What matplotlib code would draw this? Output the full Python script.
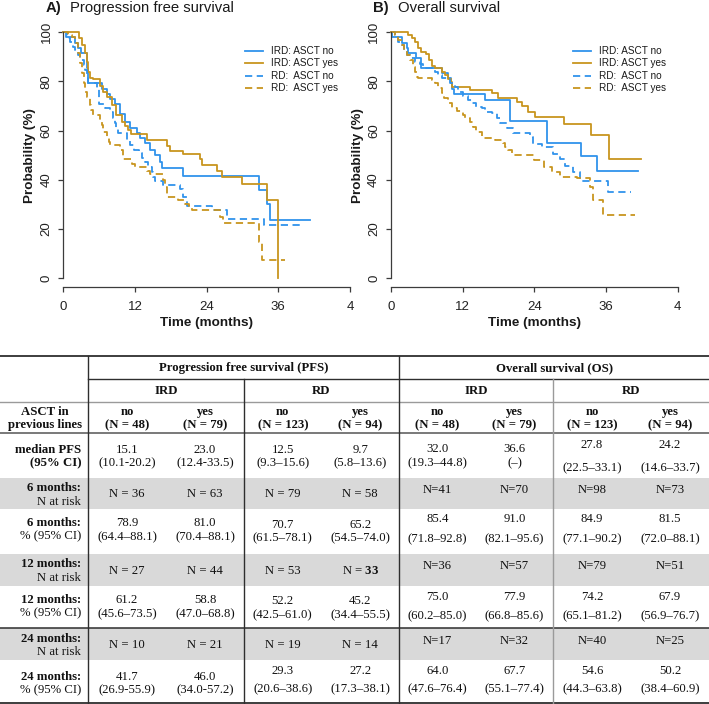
import matplotlib
matplotlib.use("Agg")
import matplotlib.pyplot as plt

plt.rcParams["font.family"] = ["Liberation Sans", "DejaVu Sans"]
plt.rcParams["mathtext.fontset"] = "custom"
plt.rcParams["mathtext.bf"] = "Liberation Serif:bold"
plt.rcParams["mathtext.rm"] = "Liberation Serif"

# ─────────────────────────────────────────────
# Kaplan–Meier curves (months, %)
# ─────────────────────────────────────────────
pfs_ird_no_t = [0, 0.5, 1.9, 2.5, 3.0, 3.9, 4.2, 6.4, 7.3, 7.8, 8.7, 9.5, 10.3, 11.2,
                12.3, 12.8, 13.7, 14.5, 15.3, 16.2, 16.6, 20.1, 32.7, 34.1, 34.6, 41.3]
pfs_ird_no_s = [100, 97.9, 95.8, 93.8, 91.7, 85.4, 79.2, 77.1, 75.0, 72.9, 70.8, 66.7, 63.7, 61.2,
                58.9, 56.9, 54.9, 52.2, 50.1, 47.4, 44.7, 41.7, 35.8, 30.0, 23.8, 23.8]

pfs_ird_yes_t = [0, 2.7, 3.2, 3.6, 3.9, 4.2, 4.5, 5.0, 6.1, 6.7, 7.3, 8.1, 8.9, 9.8, 10.3,
                 10.9, 11.3, 14.0, 17.4, 17.9, 20.1, 22.9, 23.3, 25.7, 26.5, 30.0, 34.1, 36.0]
pfs_ird_yes_s = [100, 97.5, 94.9, 91.5, 88.0, 84.0, 81.6, 81.0, 78.3, 75.9, 73.8, 70.5, 66.4, 63.7,
                 62.0, 60.3, 58.8, 56.2, 53.8, 51.8, 50.4, 48.4, 46.0, 43.7, 41.0, 38.3, 31.8, 0]

pfs_rd_no_t = [0, 0.6, 1.1, 1.7, 2.0, 2.5, 2.8, 3.4, 3.6, 3.9, 4.2, 5.6, 5.9, 6.0, 7.0, 7.8,
               8.4, 8.6, 8.9, 9.2, 10.6, 11.2, 11.8, 12.6, 13.1, 13.7, 14.2, 14.8, 15.1, 15.3,
               16.7, 19.5, 20.1, 20.8, 24.9, 27.4, 33.6, 39.6]
pfs_rd_no_s = [100, 97.6, 96.2, 94.2, 92.8, 90.8, 88.8, 86.7, 84.7, 82.7, 79.3, 77.2, 73.5, 70.7,
               69.1, 67.4, 65.0, 63.0, 61.0, 58.9, 56.2, 54.2, 52.2, 50.8, 48.8, 47.4, 45.4, 43.4,
               41.3, 39.5, 37.8, 36.5, 33.2, 29.4, 27.8, 24.1, 21.7, 21.7]

pfs_rd_yes_t = [0, 0.8, 1.4, 2.0, 2.5, 2.8, 3.1, 3.4, 3.6, 3.9, 4.5, 4.7, 5.0, 6.1, 6.4, 6.7,
                7.3, 7.7, 7.8, 9.5, 10.0, 11.5, 12.0, 14.0, 14.5, 16.7, 17.0, 17.4, 19.2, 20.3,
                21.0, 21.6, 26.2, 26.8, 32.8, 33.2, 37.1]
pfs_rd_yes_s = [100, 98.9, 97.9, 95.5, 91.5, 87.4, 83.3, 79.3, 75.9, 73.8, 70.5, 68.4, 66.4,
                64.4, 62.3, 59.6, 57.6, 55.6, 54.2, 52.2, 48.4, 46.5, 45.2, 43.5, 42.5, 40.0,
                37.0, 33.0, 32.0, 30.2, 29.4, 27.8, 24.8, 22.4, 14.9, 7.4, 7.4]

os_ird_no_t = [0, 0.2, 1.9, 2.6, 2.9, 4.2, 5.0, 8.6, 9.5, 10.0, 10.2, 10.6, 15.8, 19.9,
               26.2, 31.9, 34.5, 41.4]
os_ird_no_s = [100, 97.9, 95.8, 93.8, 91.7, 89.6, 85.4, 83.3, 81.3, 79.2, 77.1, 75.0, 72.6, 64.0,
               55.2, 49.7, 43.5, 43.5]

os_ird_yes_t = [0, 2.9, 3.5, 4.0, 4.6, 5.1, 5.8, 6.4, 6.9, 7.3, 8.6, 9.0, 9.5, 10.0, 10.2,
                13.2, 16.9, 18.0, 21.1, 22.0, 22.9, 24.1, 29.0, 33.5, 36.5, 41.9]
os_ird_yes_s = [100, 98.7, 97.5, 96.0, 93.5, 92.0, 91.0, 88.6, 86.5, 85.5, 84.0, 82.5, 81.0,
                79.7, 77.9, 76.6, 75.2, 73.4, 71.8, 70.0, 67.7, 65.4, 62.6, 58.3, 48.6, 48.6]

os_rd_no_t = [0, 0.7, 1.2, 1.5, 2.1, 2.6, 3.2, 4.0, 4.8, 5.4, 5.7, 7.4, 7.9, 8.5, 9.9, 10.7,
              11.3, 12.0, 12.9, 13.5, 14.3, 15.2, 15.7, 16.9, 17.7, 18.2, 19.4, 20.5, 23.3,
              23.7, 25.3, 27.2, 28.3, 29.1, 30.5, 31.6, 36.3, 40.2]
os_rd_no_s = [100, 98.2, 96.2, 94.9, 92.8, 90.8, 89.4, 88.0, 87.0, 86.0, 85.4, 84.0, 82.7, 81.3,
              79.3, 77.9, 75.9, 74.2, 72.5, 71.1, 69.8, 69.1, 67.8, 67.1, 65.0, 63.0, 61.0, 59.0,
              57.3, 54.6, 53.3, 50.6, 48.5, 45.8, 43.1, 39.7, 35.2, 35.2]

os_rd_yes_t = [0, 0.7, 1.2, 1.8, 2.1, 2.6, 3.2, 3.7, 4.0, 4.3, 4.6, 6.8, 7.4, 7.9, 8.5, 8.9,
               9.6, 10.2, 11.0, 12.1, 12.4, 13.2, 13.8, 14.3, 15.2, 17.4, 18.8, 19.1, 19.6,
               20.2, 23.9, 25.6, 27.0, 28.3, 31.1, 33.3, 33.8, 35.5, 40.9]
os_rd_yes_s = [100, 98.9, 96.9, 94.9, 92.8, 90.8, 88.8, 86.0, 84.0, 82.0, 81.5, 80.6, 79.3,
               77.2, 75.2, 73.2, 71.1, 69.1, 67.9, 66.4, 65.0, 63.7, 61.7, 59.6, 56.9, 56.2,
               54.9, 53.5, 52.2, 50.1, 48.1, 45.4, 43.3, 41.3, 40.6, 37.2, 31.8, 25.7, 25.7]

legend_labels = ["IRD: ASCT no", "IRD: ASCT yes", "RD:  ASCT no", "RD:  ASCT yes"]
x_ticks = [0, 12, 24, 36, 48]
x_tick_labels = ["0", "12", "24", "36", "4"]
y_ticks = [0, 20, 40, 60, 80, 100]

# ─────────────────────────────────────────────
# Table contents
# ─────────────────────────────────────────────
endpoints = ["Progression free survival (PFS)", "Overall survival (OS)"]
regimens = ["IRD", "RD", "IRD", "RD"]
asct = ["no", "yes"] * 4
group_n = ["(N = 48)", "(N = 79)", "(N = 123)", "(N = 94)"] * 2

median = ["15.1", "23.0", "12.5", "9.7", "32.0", "36.6", "27.8", "24.2"]
median_ci = ["(10.1-20.2)", "(12.4-33.5)", "(9.3–15.6)", "(5.8–13.6)",
             "(19.3–44.8)", "(–)", "(22.5–33.1)", "(14.6–33.7)"]
risk6 = ["N = 36", "N = 63", "N = 79", "N = 58", "N=41", "N=70", "N=98", "N=73"]
pct6 = ["78.9", "81.0", "70.7", "65.2", "85.4", "91.0", "84.9", "81.5"]
ci6 = ["(64.4–88.1)", "(70.4–88.1)", "(61.5–78.1)", "(54.5–74.0)",
       "(71.8–92.8)", "(82.1–95.6)", "(77.1–90.2)", "(72.0–88.1)"]
risk12 = ["N = 27", "N = 44", "N = 53", "N = $\\mathbf{33}$", "N=36", "N=57", "N=79", "N=51"]
pct12 = ["61.2", "58.8", "52.2", "45.2", "75.0", "77.9", "74.2", "67.9"]
ci12 = ["(45.6–73.5)", "(47.0–68.8)", "(42.5–61.0)", "(34.4–55.5)",
        "(60.2–85.0)", "(66.8–85.6)", "(65.1–81.2)", "(56.9–76.7)"]
risk24 = ["N = 10", "N = 21", "N = 19", "N = 14", "N=17", "N=32", "N=40", "N=25"]
pct24 = ["41.7", "46.0", "29.3", "27.2", "64.0", "67.7", "54.6", "50.2"]
ci24 = ["(26.9-55.9)", "(34.0-57.2)", "(20.6–38.6)", "(17.3–38.1)",
        "(47.6–76.4)", "(55.1–77.4)", "(44.3–63.8)", "(38.4–60.9)"]

row_labels = [("median PFS", "(95% CI)"), ("6 months:", "N at risk"), ("6 months:", "% (95% CI)"),
              ("12 months:", "N at risk"), ("12 months:", "% (95% CI)"),
              ("24 months:", "N at risk"), ("24 months:", "% (95% CI)")]

BLUE = "#3093ec"
GOLD = "#c8951f"
AXC = "#3c3c3c"
W, H = 709, 704

fig = plt.figure(figsize=(W / 100, H / 100), dpi=100)


def px_axes(x0, y0, x1, y1):
    return fig.add_axes([x0 / W, 1 - y1 / H, (x1 - x0) / W, (y1 - y0) / H])


DASH = (0, (4, 2.5))


def km_panel(x0, curves):
    ax = px_axes(x0, 32.3, x0 + 286.6, 278.3)
    ax.set_xlim(0, 48)
    ax.set_ylim(0, 100)
    for t, s, c, ls in curves:
        ax.step(t, s, where="post", color=c, lw=1.3, linestyle=ls, clip_on=False)
    for side in ["top", "right"]:
        ax.spines[side].set_visible(False)
    ax.spines["bottom"].set_position(("outward", 6.6))
    ax.spines["bottom"].set_bounds(0, 48)
    ax.spines["left"].set_bounds(0, 100)
    for side in ["bottom", "left"]:
        ax.spines[side].set_color(AXC)
        ax.spines[side].set_linewidth(0.9)
    ax.set_xticks(x_ticks)
    ax.set_xticklabels(x_tick_labels)
    ax.set_yticks(y_ticks)
    ax.set_yticklabels([str(v) for v in y_ticks], rotation=90, va="center")
    ax.tick_params(length=3.8, width=0.9, color=AXC, labelcolor="#222222", labelsize=9.5)
    ax.tick_params(axis="x", pad=6)
    ax.tick_params(axis="y", pad=4)
    ax.patch.set_alpha(0)
    return ax


km_panel(63.3, [(pfs_ird_no_t, pfs_ird_no_s, BLUE, "-"),
                (pfs_ird_yes_t, pfs_ird_yes_s, GOLD, "-"),
                (pfs_rd_no_t, pfs_rd_no_s, BLUE, DASH),
                (pfs_rd_yes_t, pfs_rd_yes_s, GOLD, DASH)])
km_panel(391.0, [(os_ird_no_t, os_ird_no_s, BLUE, "-"),
                 (os_ird_yes_t, os_ird_yes_s, GOLD, "-"),
                 (os_rd_no_t, os_rd_no_s, BLUE, DASH),
                 (os_rd_yes_t, os_rd_yes_s, GOLD, DASH)])

# overlay in pixel coordinates for titles, legends and the table
ov = fig.add_axes([0, 0, 1, 1])
ov.set_xlim(0, W)
ov.set_ylim(H, 0)
ov.axis("off")
ov.patch.set_alpha(0)

TXT = "#1a1a1a"
for x0, letter, title in [(63.3, "A)", "Progression free survival"), (391.0, "B)", "Overall survival")]:
    ov.text(x0 - 18, 8, letter, fontsize=10.7, fontweight="bold", color=TXT, va="center")
    ov.text(x0 + 7, 8, title, fontsize=10.7, color=TXT, va="center")
    ov.text(x0 - 33, 155.3, "Probability (%)", fontsize=9.7, fontweight="bold", color=TXT,
            rotation=90, ha="center", va="center")
    ov.text(x0 + 143.3, 323, "Time (months)", fontsize=9.7, fontweight="bold", color=TXT,
            ha="center", va="center")
    styles = [(BLUE, "-"), (GOLD, "-"), (BLUE, DASH), (GOLD, DASH)]
    for i, (lab, (c, ls)) in enumerate(zip(legend_labels, styles)):
        y = 51 + i * 12.4
        ov.plot([x0 + 181.5, x0 + 200], [y, y], color=c, lw=1.3, linestyle=ls)
        ov.text(x0 + 208, y, lab, fontsize=7.2, color=TXT, va="center")

# ─────────────────────────────────────────────
# Table
# ─────────────────────────────────────────────
SERIF = "Liberation Serif"
GRAY = "#d9d9d9"
for y0, y1 in [(477.7, 509.3), (554.3, 586.0), (628.3, 660.0)]:
    ov.add_patch(plt.Rectangle((0, y0), W, y1 - y0, color=GRAY, lw=0, zorder=0))

DARK = "#2e2e2e"
LIGHT = "#9a9a9a"
for y, xa, c, lw in [(356, 0, DARK, 1.3), (379, 88, DARK, 1.0), (402, 0, LIGHT, 1.0),
                     (433.3, 0, "#555555", 1.1), (628.3, 0, DARK, 1.1), (703, 0, DARK, 1.3)]:
    ov.plot([xa, W], [y, y], color=c, lw=lw, zorder=2)
for x, ya, c in [(88, 356, DARK), (244, 379, DARK), (399, 356, DARK), (553, 379, LIGHT)]:
    ov.plot([x, x], [ya, 703], color=c, lw=1.0, zorder=2)

bounds = [88, 244, 399, 553, 709]
centers = []
for a, b in zip(bounds[:-1], bounds[1:]):
    centers += [a + (b - a) * 0.25, a + (b - a) * 0.75]

FS = 9.2


def cell(x, y, s, bold=False, ha="center"):
    ov.text(x, y, s, fontsize=FS, family=SERIF, fontweight="bold" if bold else "normal",
            color="#111111", ha=ha, va="center", zorder=3)


for i, ep in enumerate(endpoints):
    cell((bounds[2 * i] + bounds[2 * i + 2]) / 2, 368, ep, bold=True)
for i, rg in enumerate(regimens):
    cell((bounds[i] + bounds[i + 1]) / 2, 391.5, rg, bold=True)
cell(45, 411.7, "ASCT in", bold=True)
cell(45, 425, "previous lines", bold=True)
for x, a, n in zip(centers, asct, group_n):
    cell(x, 411.7, a, bold=True)
    cell(x, 425, n, bold=True)

label_y = [(450, 463.3), (488.3, 501.7), (523.3, 536), (564.3, 577.7),
           (600, 613.3), (639.3, 651.7), (676.7, 690)]
for (l1, l2), (y1, y2) in zip(row_labels, label_y):
    cell(81, y1, l1, bold=True, ha="right")
    cell(81, y2, l2, bold=(l1 == "median PFS"), ha="right")

# two-line cells: vertical positions per column group (PFS-IRD, PFS-RD, OS-IRD, OS-RD)
two_line_rows = [
    (median, median_ci, [(450, 463.5), (450, 463.5), (449.5, 463.5), (445, 468)]),
    (pct6, ci6, [(523, 537), (525, 538), (519, 539), (519, 539)]),
    (pct12, ci12, [(600, 614), (601, 615), (597, 616.5), (597, 616.5)]),
    (pct24, ci24, [(676.5, 690), (671, 689.3), (671, 689.3), (671, 689.3)]),
]
for top, bot, ys in two_line_rows:
    for j, x in enumerate(centers):
        y1, y2 = ys[j // 2]
        cell(x, y1, top[j])
        cell(x, y2, bot[j])

one_line_rows = [(risk6, [494, 494, 490, 490]), (risk12, [570.5, 570.5, 566, 566]),
                 (risk24, [645, 645, 641.5, 641.5])]
for vals, ys in one_line_rows:
    for j, x in enumerate(centers):
        cell(x, ys[j // 2], vals[j])

fig.savefig("out.png", dpi=100)
